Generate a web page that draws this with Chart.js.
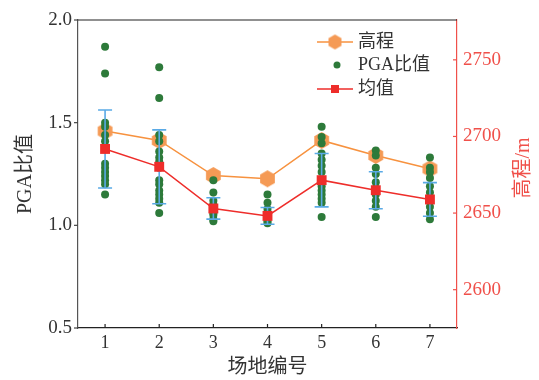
<!DOCTYPE html>
<html><head><meta charset="utf-8">
<script src="https://cdn.jsdelivr.net/npm/chart.js@4/dist/chart.umd.min.js"></script>
<style>html,body{margin:0;padding:0;background:#fff}#wrap{width:539px;height:380px}</style>
</head><body><div id="wrap"><canvas id="c"></canvas></div>
<script>
const categories = [1, 2, 3, 4, 5, 6, 7];
const elevation = [2703.5, 2697.4, 2674.5, 2672.4, 2697.4, 2687.6, 2678.9];
const meanPGA = [1.372, 1.285, 1.082, 1.046, 1.220, 1.171, 1.126];
const errPGA = [0.19, 0.18, 0.052, 0.041, 0.13, 0.09, 0.082];
const pgaSite1 = [1.87, 1.74, 1.50, 1.48, 1.44, 1.41, 1.38, 1.30, 1.28, 1.26, 1.24, 1.22, 1.20, 1.15];
const pgaSite2 = [1.77, 1.62, 1.44, 1.41, 1.36, 1.33, 1.31, 1.28, 1.22, 1.20, 1.17, 1.15, 1.13, 1.11, 1.06];
const pgaSite3 = [1.22, 1.16, 1.12, 1.10, 1.08, 1.06, 1.05, 1.03, 1.02];
const pgaSite4 = [1.15, 1.11, 1.08, 1.06, 1.05, 1.04, 1.02, 1.01];
const pgaSite5 = [1.48, 1.43, 1.40, 1.35, 1.32, 1.29, 1.26, 1.22, 1.19, 1.17, 1.15, 1.13, 1.11, 1.04];
const pgaSite6 = [1.365, 1.34, 1.28, 1.25, 1.21, 1.18, 1.15, 1.12, 1.09, 1.04];
const pgaSite7 = [1.33, 1.28, 1.26, 1.23, 1.19, 1.16, 1.12, 1.09, 1.06, 1.03];
const leftTicks = [0.5, 1.0, 1.5, 2.0];
const rightTicks = [2600, 2650, 2700, 2750];
const labels = {elev: '高程', pga: 'PGA比值', mean: '均值', x: '场地编号', yl: 'PGA比值', yr: '高程/m'};

const FONT = '"Liberation Serif", "Noto Sans CJK SC", serif';
const ORANGE_LINE = '#f7923f', ORANGE_FILL = '#f59a55';
const GREEN = '#2d7a3a', RED = '#ee2d2a', BLUE = '#5aaae6', AXRED = '#f0504a';

function hexImg(r) {
  const c = document.createElement('canvas');
  const s = Math.ceil(r * 2 + 2);
  c.width = s; c.height = s;
  const g = c.getContext('2d');
  g.beginPath();
  for (let k = 0; k < 6; k++) {
    const a = Math.PI / 2 + k * Math.PI / 3;
    const px = s / 2 + r * Math.cos(a), py = s / 2 + r * Math.sin(a);
    k ? g.lineTo(px, py) : g.moveTo(px, py);
  }
  g.closePath();
  g.fillStyle = ORANGE_FILL; g.fill();
  return c;
}
const hexBig = hexImg(8.5), hexLeg = hexImg(7.5);

const pgaSites = [pgaSite1, pgaSite2, pgaSite3, pgaSite4, pgaSite5, pgaSite6, pgaSite7];
const pgaPoints = [];
pgaSites.forEach((arr, i) => arr.forEach(v => pgaPoints.push({x: categories[i], y: v})));

const extras = {
  id: 'extras',
  afterDatasetDraw(chart, args) {
    if (args.index !== 1) return;
    const ctx = chart.ctx, xs = chart.scales.x, ys = chart.scales.y;
    ctx.save();
    ctx.strokeStyle = BLUE; ctx.lineWidth = 1.6;
    categories.forEach((c, i) => {
      const x = xs.getPixelForValue(c);
      const yt = ys.getPixelForValue(meanPGA[i] + errPGA[i]);
      const yb = ys.getPixelForValue(meanPGA[i] - errPGA[i]);
      ctx.beginPath();
      ctx.moveTo(x, yt); ctx.lineTo(x, yb);
      ctx.moveTo(x - 7, yt); ctx.lineTo(x + 7, yt);
      ctx.moveTo(x - 7, yb); ctx.lineTo(x + 7, yb);
      ctx.stroke();
    });
    ctx.restore();
  },
  afterDraw(chart) {
    const ctx = chart.ctx, a = chart.chartArea;
    const xs = chart.scales.x, ys = chart.scales.y, yr = chart.scales.y2;
    ctx.save();
    ctx.strokeStyle = '#222'; ctx.lineWidth = 1.2;
    ctx.beginPath(); ctx.moveTo(a.left, a.top); ctx.lineTo(a.right, a.top); ctx.stroke();
    ctx.lineWidth = 1.2; ctx.strokeStyle = '#444';
    leftTicks.forEach(v => { const y = ys.getPixelForValue(v); ctx.beginPath(); ctx.moveTo(a.left - 4, y); ctx.lineTo(a.left, y); ctx.stroke(); });
    ctx.strokeStyle = '#222';
    categories.forEach(v => { const x = xs.getPixelForValue(v); ctx.beginPath(); ctx.moveTo(x, a.bottom); ctx.lineTo(x, a.bottom - 4); ctx.stroke(); });
    ctx.strokeStyle = AXRED;
    rightTicks.forEach(v => { const y = yr.getPixelForValue(v); ctx.beginPath(); ctx.moveTo(a.right - 4, y); ctx.lineTo(a.right, y); ctx.stroke(); });
    ctx.font = '20px ' + FONT; ctx.textAlign = 'center'; ctx.textBaseline = 'middle';
    ctx.fillStyle = '#333';
    ctx.fillText(labels.x, (a.left + a.right) / 2, 368);
    ctx.save(); ctx.translate(26, 174); ctx.rotate(-Math.PI / 2); ctx.fillText(labels.yl, 0, 0); ctx.restore();
    ctx.fillStyle = AXRED;
    ctx.save(); ctx.translate(524, 168); ctx.rotate(-Math.PI / 2); ctx.fillText(labels.yr, 0, 0); ctx.restore();
    const lx0 = 317, lx1 = 353, lc = 335, tx = 358;
    ctx.font = '18px ' + FONT; ctx.textAlign = 'left'; ctx.fillStyle = '#333';
    let y = 42;
    ctx.strokeStyle = ORANGE_LINE; ctx.lineWidth = 1.5;
    ctx.beginPath(); ctx.moveTo(lx0, y); ctx.lineTo(lx1, y); ctx.stroke();
    ctx.drawImage(hexLeg, lc - hexLeg.width / 2, y - hexLeg.height / 2);
    ctx.fillText(labels.elev, tx, y);
    y = 65;
    ctx.fillStyle = GREEN; ctx.beginPath(); ctx.arc(lc + 2, y, 3.5, 0, Math.PI * 2); ctx.fill();
    ctx.fillStyle = '#333'; ctx.fillText(labels.pga, tx, y);
    y = 89;
    ctx.strokeStyle = RED; ctx.beginPath(); ctx.moveTo(lx0, y); ctx.lineTo(lx1, y); ctx.stroke();
    ctx.fillStyle = RED; ctx.fillRect(lc - 4, y - 4, 8, 8);
    ctx.fillStyle = '#333'; ctx.fillText(labels.mean, tx, y);
    ctx.restore();
  }
};

new Chart(document.getElementById('c'), {
  type: 'scatter',
  data: {
    datasets: [
      {label: labels.elev, data: categories.map((c, i) => ({x: c, y: elevation[i]})), yAxisID: 'y2', showLine: true,
       borderColor: ORANGE_LINE, borderWidth: 1.5, pointStyle: hexBig, pointRadius: 8, order: 2},
      {label: labels.pga, data: pgaPoints, yAxisID: 'y', showLine: false,
       pointStyle: 'circle', pointRadius: 4, backgroundColor: GREEN, borderColor: GREEN, borderWidth: 0, order: 1},
      {label: labels.mean, data: categories.map((c, i) => ({x: c, y: meanPGA[i]})), yAxisID: 'y', showLine: true,
       borderColor: RED, borderWidth: 1.5, pointStyle: 'rect', pointRadius: 7, backgroundColor: RED, pointBorderColor: RED, pointBorderWidth: 0, order: 0}
    ]
  },
  options: {
    responsive: true, maintainAspectRatio: false, animation: false,
    layout: {padding: {top: 20, left: 0, right: 0, bottom: 0}},
    plugins: {legend: {display: false}, tooltip: {enabled: false}},
    scales: {
      x: {type: 'linear', min: 0.5, max: 7.5,
          afterBuildTicks: s => { s.ticks = categories.map(v => ({value: v})); },
          afterFit: s => { s.height = 52; },
          grid: {display: false, drawTicks: false},
          border: {display: true, color: '#222', width: 1.2},
          ticks: {font: {family: FONT, size: 18}, color: '#333', padding: 4, callback: v => String(v)}},
      y: {position: 'left', min: 0.5, max: 2.0,
          afterBuildTicks: s => { s.ticks = leftTicks.map(v => ({value: v})); },
          afterFit: s => { s.width = 78; },
          grid: {display: false, drawTicks: false},
          border: {display: true, color: '#555', width: 1.2},
          ticks: {font: {family: FONT, size: 19}, color: '#333', padding: 6, callback: v => v.toFixed(1)}},
      y2: {position: 'right', min: 2575, max: 2776,
          afterBuildTicks: s => { s.ticks = rightTicks.map(v => ({value: v})); },
          afterFit: s => { s.width = 82; },
          grid: {display: false, drawTicks: false},
          border: {display: true, color: AXRED, width: 1.2},
          ticks: {font: {family: FONT, size: 19}, color: AXRED, padding: 6, callback: v => String(v)}}
    }
  },
  plugins: [extras]
});
</script></body></html>
